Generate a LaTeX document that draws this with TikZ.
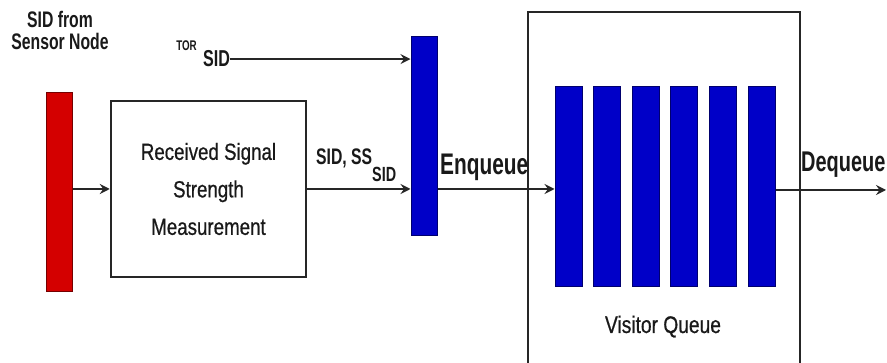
\documentclass[tikz,border=0pt]{standalone}
\usepackage{fontspec}
\setmainfont{Liberation Sans}
\newfontfamily\rfont[FakeStretch=0.8,FakeBold=0.6]{Liberation Sans}
\newfontfamily\bfont[FakeStretch=0.7]{Liberation Sans}
\usetikzlibrary{arrows.meta}
\definecolor{sred}{RGB}{212,0,0}
\definecolor{sblue}{RGB}{0,0,200}
\begin{document}
\begin{tikzpicture}[x=1pt,y=-1pt,
  redbar/.style={draw=sred!55!black, fill=sred, line width=1pt, minimum width=26pt, minimum height=199pt, inner sep=0pt},
  bluebar/.style={draw=sblue!55!black, fill=sblue, line width=1pt, minimum width=26pt, minimum height=199pt, inner sep=0pt},
  qbar/.style={draw=sblue!55!black, fill=sblue, line width=1pt, minimum width=27pt, minimum height=200pt, inner sep=0pt},
  blockbox/.style={draw=black!85, line width=2.5pt, inner sep=0pt},
  arr/.style={draw=black!85, line width=1.6pt, -{Stealth[length=10pt,width=10pt,inset=3.5pt]}},
  blab/.style={inner sep=0pt, text=black!90, font=\bfont\bfseries},
  rlab/.style={inner sep=0pt, text=black!90, font=\rfont}
]
\useasboundingbox[fill=white] (0,0) rectangle (887,363);

% input bar and its label
\node[redbar] (sens) at (59,192.5) {};
\node[blab, align=center, anchor=base, font=\bfont\bfseries\fontsize{22.5}{22}\selectfont] (senslab) at (60,50) {SID from\\Sensor Node};

% RSS block
\node[blockbox, minimum width=195pt, minimum height=176pt, align=center,
      font=\rfont\fontsize{23.4}{37.5}\selectfont, text=black!90] (rss) at (208.5,189)
      {Received Signal\\Strength\\Measurement};

% multiplexer bar
\node[bluebar] (mux) at (424,136.5) {};

% TOR SID label
\node[blab, anchor=base west, font=\bfont\bfseries\fontsize{23}{23}\selectfont] (sid) at (203,67) {SID};
\node[blab, anchor=base east, font=\bfont\bfseries\fontsize{14}{14}\selectfont] (tor) at (197,51) {TOR};

% SID, SS_SID label
\node[blab, anchor=base west, font=\bfont\bfseries\fontsize{22.5}{22.5}\selectfont] (sidss) at (316,165)
      {SID, SS\raisebox{-17pt}{\fontsize{20.5}{20.5}\selectfont SID}};

% Visitor queue
\node[blockbox, minimum width=272pt, minimum height=358pt] (vq) at (664,191) {};
\foreach \i/\x in {1/568.5,2/606.5,3/645.5,4/684,5/723,6/761.5}
  \node[qbar] (q\i) at (\x,187) {};
\node[rlab, anchor=base, font=\rfont\fontsize{24}{24}\selectfont] (vqlab) at (663,333) {Visitor Queue};

% Enqueue / Dequeue labels
\node[blab, anchor=base west, font=\bfont\bfseries\fontsize{29.8}{30}\selectfont] (enq) at (440,175) {Enqueue};
\node[blab, anchor=base west, font=\bfont\bfseries\fontsize{28.5}{30}\selectfont] (deq) at (801,172) {Dequeue};

% connectors
\coordinate (out) at (886,190);
\draw[arr] (sens.east |- rss.west) -- (rss.west);
\draw[arr] (rss.east) -- (rss.east -| mux.west);
\draw[arr] (sid.east) -- (sid.east -| mux.west);
\draw[arr] (mux.east |- rss.east) -- (rss.east -| q1.west);
\draw[arr] (q6.east |- out) -- (out);
\end{tikzpicture}
\end{document}
